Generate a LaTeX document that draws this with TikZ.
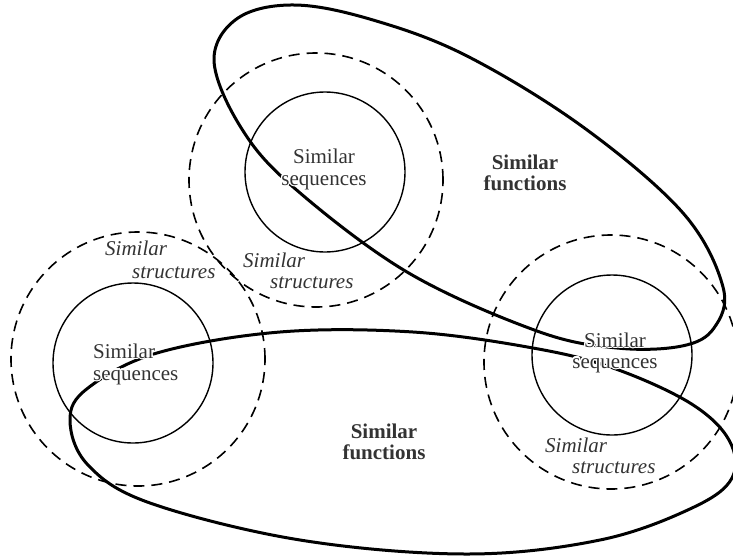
\documentclass[tikz,border=0pt]{standalone}
\usepackage{fontspec}
\setmainfont{Liberation Serif}
\usepackage{contour}
\contourlength{1.2pt}
\begin{document}
\begin{tikzpicture}[x=1pt,y=-1pt,
  seqcircle/.style={line width=1.4pt},
  strcircle/.style={line width=1.6pt, dash pattern=on 11pt off 7pt},
  funcloop/.style={line width=3pt, line join=round},
  lbl/.style={inner sep=0pt, text=black!80, font=\fontsize{21}{23}\selectfont},
  seqlbl/.style={lbl, anchor=base},
  seqlblw/.style={lbl, anchor=base west},
  funclbl/.style={lbl, anchor=base, font=\fontsize{21}{23}\selectfont\bfseries},
  strlbl/.style={lbl, anchor=base west, font=\fontsize{21}{23}\selectfont\itshape}]
\useasboundingbox (0,0) rectangle (733,555);
\clip (0,0) rectangle (733,555);

% dashed (structures) circles
\draw[strcircle] (316,180) circle[radius=127pt];
\draw[strcircle] (138,359) circle[radius=127pt];
\draw[strcircle] (611,362) circle[radius=127pt];

% solid (sequences) circles
\draw[seqcircle] (325,172) circle[radius=80pt];
\draw[seqcircle] (133,363) circle[radius=80pt];
\draw[seqcircle] (612,355) circle[radius=80pt];

% top functions loop
\draw[funcloop] plot[smooth cycle, tension=0.6] coordinates {
  (214,60) (238,18) (295,5) (373,20) (467,56) (583,127) (683,213)
  (723,287) (714,328) (682,346) (617,348) (537,331) (407,272)
  (292,186) (240,126)};

% bottom functions loop
\draw[funcloop] plot[smooth cycle, tension=0.6] coordinates {
  (157,353) (280,332) (413,332) (533,348) (613,368) (690,403)
  (729,440) (732,478) (692,508) (600,540) (467,554) (300,540)
  (150,503) (88,465) (70,420) (88,388)};

% labels: top group
\node[seqlbl] (tseqa) at (324,163) {\contour{white}{Similar}};
\node[seqlbl] (tseqb) at (324,185) {\contour{white}{sequences}};
\node[strlbl] (tstra) at (243,267) {\contour{white}{Similar}};
\node[strlbl] (tstrb) at (270,288) {\contour{white}{structures}};

% labels: left group
\node[seqlblw] (lseqa) at (93,358) {\contour{white}{Similar}};
\node[seqlblw] (lseqb) at (93,380) {\contour{white}{sequences}};
\node[strlbl] (lstra) at (105,255) {\contour{white}{Similar}};
\node[strlbl] (lstrb) at (132,278) {\contour{white}{structures}};

% labels: right group
\node[seqlbl] (rseqa) at (615,347) {\contour{white}{Similar}};
\node[seqlbl] (rseqb) at (615,368) {\contour{white}{sequences}};
\node[strlbl] (rstra) at (545,452) {\contour{white}{Similar}};
\node[strlbl] (rstrb) at (572,473) {\contour{white}{structures}};

% function labels
\node[funclbl] (tfunca) at (525,169) {\contour{white}{Similar}};
\node[funclbl] (tfuncb) at (525,190) {\contour{white}{functions}};
\node[funclbl] (bfunca) at (384,438) {\contour{white}{Similar}};
\node[funclbl] (bfuncb) at (384,459) {\contour{white}{functions}};
\end{tikzpicture}
\end{document}
